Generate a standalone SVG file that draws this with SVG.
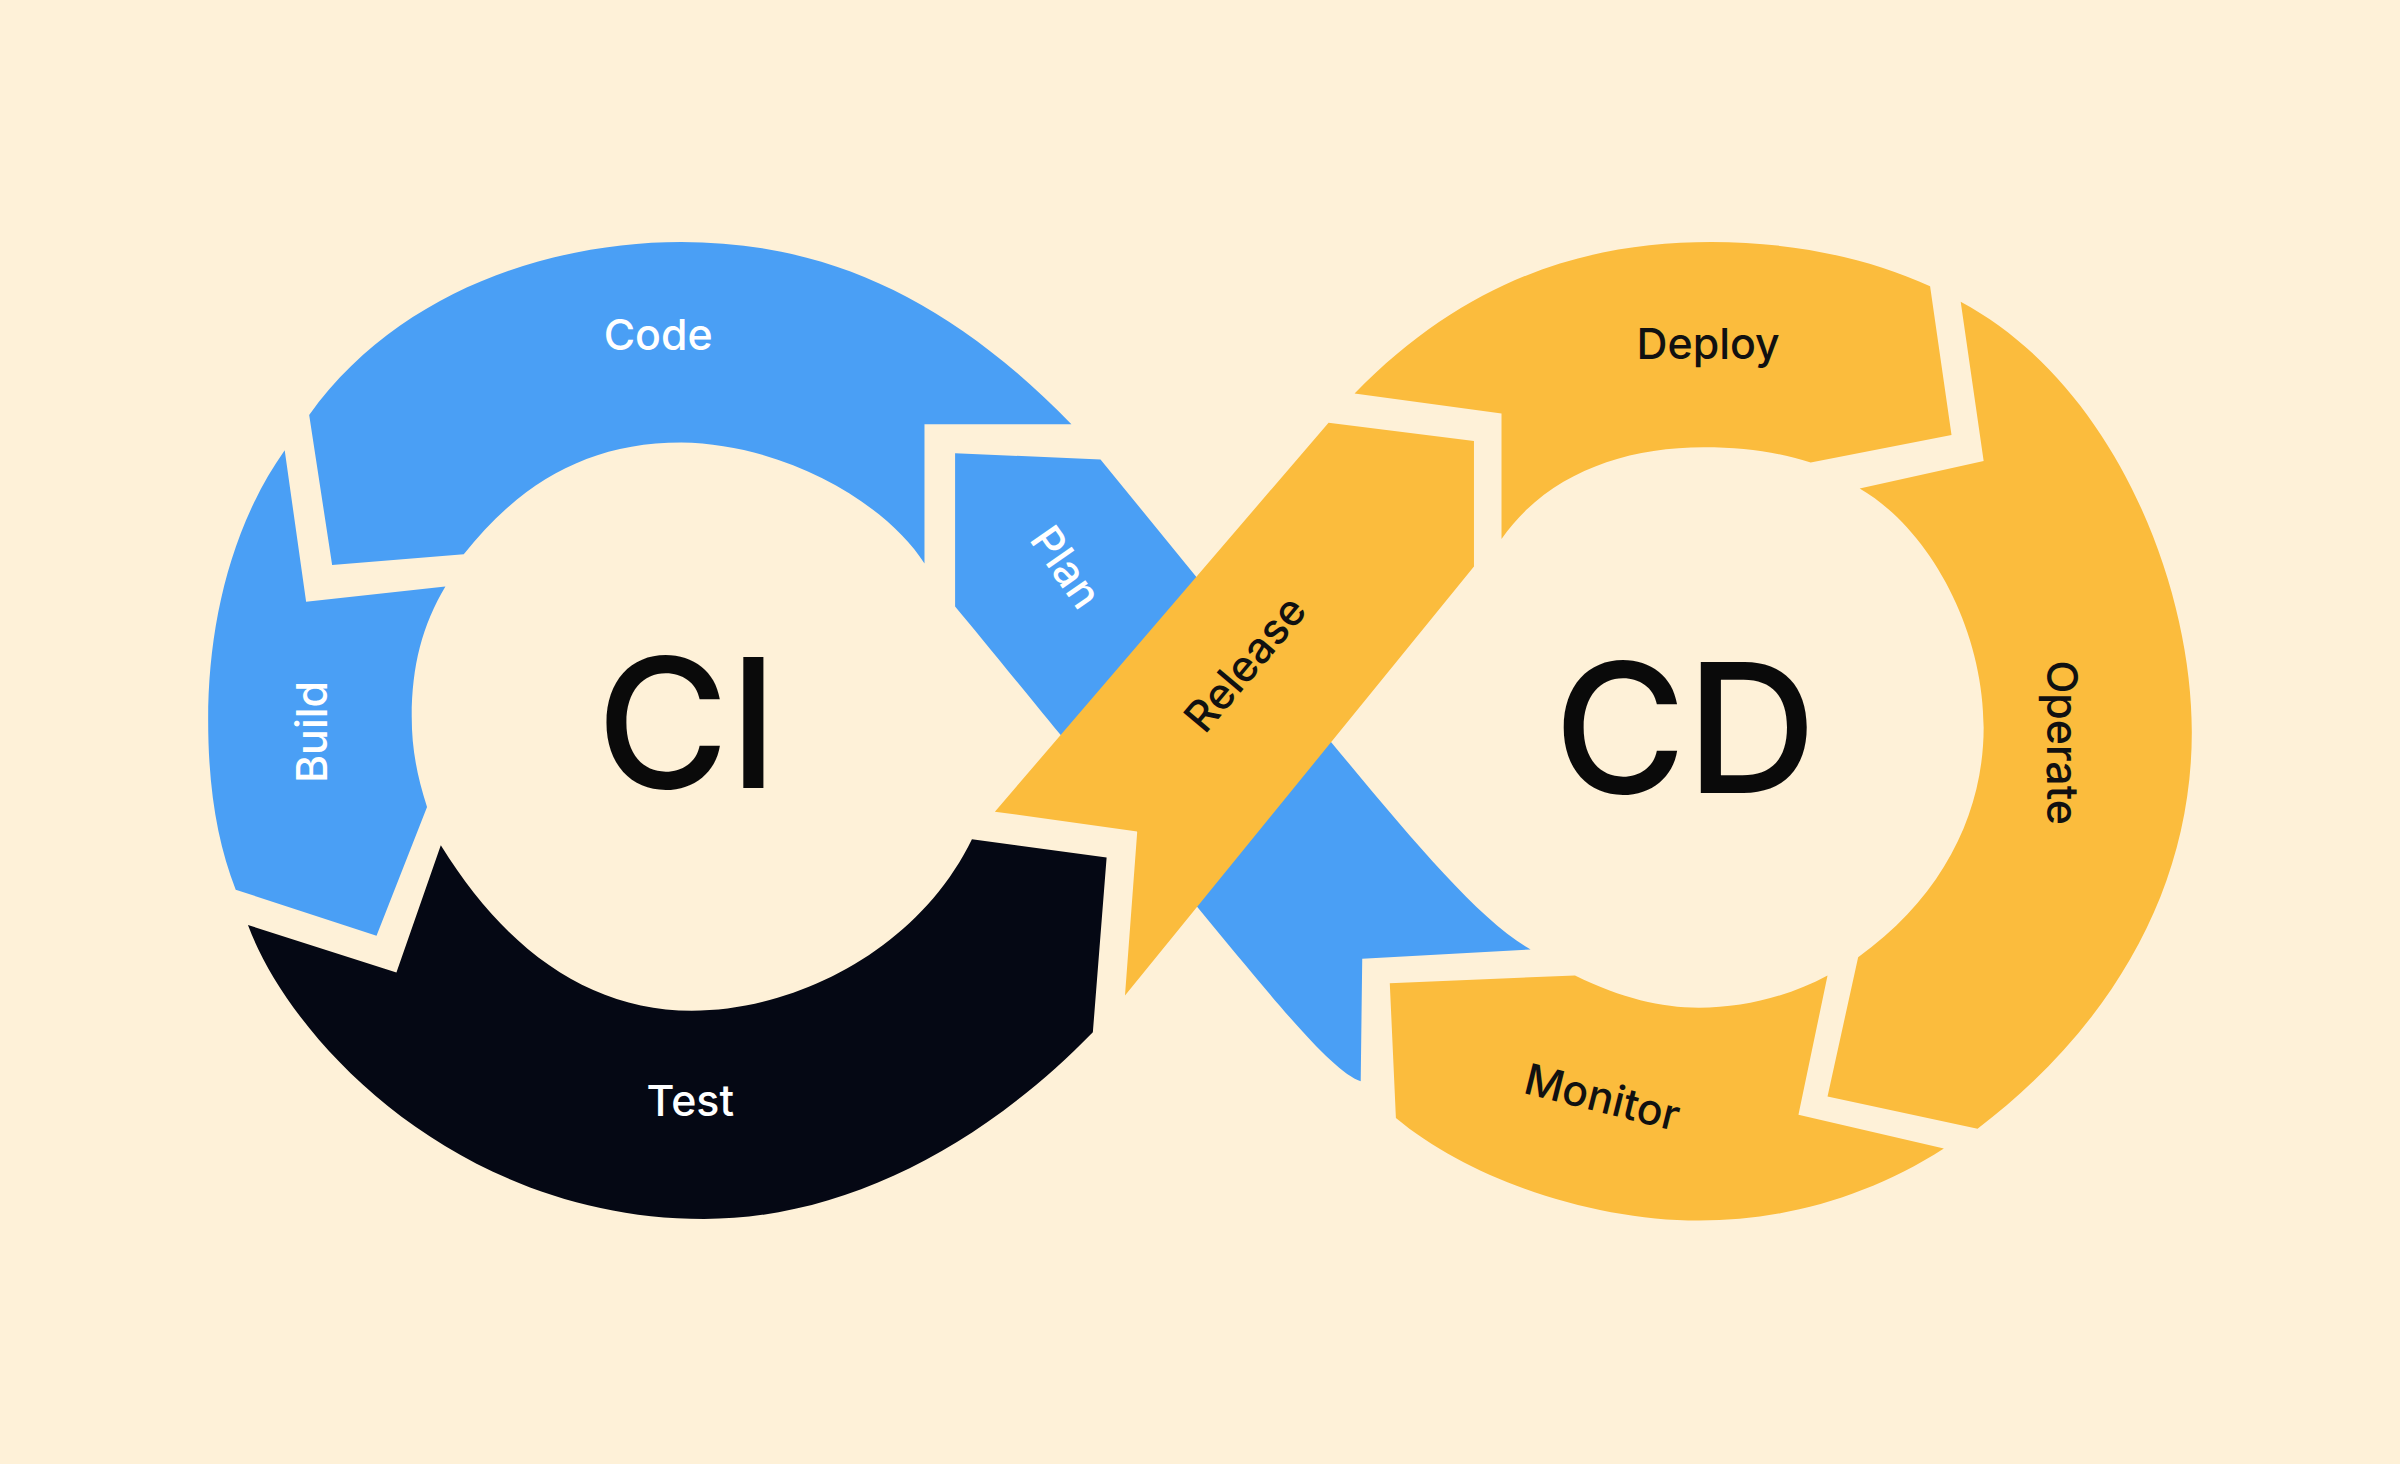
<svg xmlns="http://www.w3.org/2000/svg" width="2400" height="1464" viewBox="0 0 2400 1464">
<style>
.b{fill:#4A9FF5}.y{fill:#FBBC3D}.k{fill:#050814}
text{font-family:Inter,"Open Sans","Liberation Sans",sans-serif;text-anchor:middle;dominant-baseline:central}
.w{fill:#fff;font-size:28px;font-weight:500}.d{fill:#111;font-size:28px;font-weight:500}
.big{fill:#0a0a0a;font-size:118px;font-weight:500}
</style>
<rect width="2400" height="1464" fill="#FEF1D8"/>
<g transform="scale(1.5306 1.5314)">
<g id="plan"><path class="b" d="M624,296 L719,300 L870,485 C920,545 965,600 1000,620 L890,626 L889,706 C870,700 830,650 782,592 L693,480 C660,440 640,415 624,396 Z"/>
<text class="w" transform="translate(697,370) rotate(55)">Plan</text></g>
<g id="code"><path class="b" d="M202,271 C260,190 360,158 445,158 C540,158 620,195 700,277 L604,277 L604,368 C580,330 515,290 445,289 C385,289 340,315 303,362 L217,369 Z"/>
<text class="w" x="430" y="218">Code</text></g>
<g id="build"><path class="b" d="M186,294 C150,345 136,410 136,470 C136,515 142,550 154,581 L246,611 L279,527 C272,505 269,488 269,468 C269,435 276,408 291,383 L200,393 Z"/>
<text class="w" transform="translate(203,478) rotate(-90)">Build</text></g>
<g id="test"><path class="k" d="M162,604 L259,635 L288,552 C330,620 385,660 452,660 C520,660 600,620 635,548 L723,560 L714,674 C640,750 550,796 460,796 C300,796 190,680 162,604 Z"/>
<text class="w" x="451" y="718">Test</text></g>
<g id="release"><path class="y" d="M868,276 L963,288 L963,370 L735,650 L743,543 L650,530 Z"/>
<text class="d" transform="translate(813,433) rotate(-50)">Release</text></g>
<g id="deploy"><path class="y" d="M885,257 C960,180 1040,158 1118,158 C1170,158 1220,168 1261,187 L1275,284 L1183,302 C1160,295 1140,292 1113,292 C1060,292 1010,310 981,352 L981,270 Z"/>
<text class="d" x="1116" y="224">Deploy</text></g>
<g id="operate"><path class="y" d="M1281,197 C1380,250 1432,380 1432,478 C1432,580 1380,670 1292,737 L1194,716 L1214,625 C1270,585 1296,530 1296,475 C1296,410 1260,345 1215,319 L1296,301 Z"/>
<text class="d" transform="translate(1348,485) rotate(90)">Operate</text></g>
<g id="monitor"><path class="y" d="M908,642 L1029,637 C1060,652 1085,658 1110,658 C1140,658 1170,650 1194,637 L1175,728 L1270,750 C1220,782 1165,797 1110,797 C1040,797 960,770 912,730 Z"/>
<text class="d" transform="translate(1047,716) rotate(14)">Monitor</text></g>
<g id="ci"><text class="big" x="449" y="472">CI</text></g>
<g id="cd"><text class="big" x="1101" y="475">CD</text></g>
</g>
<g id="connectors"/>
</svg>
